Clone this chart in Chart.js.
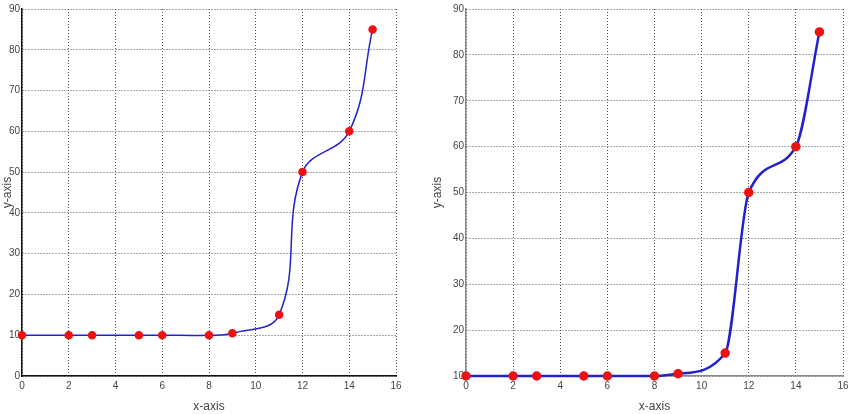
<!DOCTYPE html>
<html>
<head>
<meta charset="utf-8">
<script src="https://cdn.jsdelivr.net/npm/chart.js@4.4.0/dist/chart.umd.min.js"></script>
<style>
  body { margin: 0; background: #fff; }
  canvas { position: absolute; top: 0; }
  #leftChart { left: 0; }
  #rightChart { left: 430px; }
</style>
</head>
<body>
<canvas id="leftChart" width="420" height="414"></canvas>
<canvas id="rightChart" width="424" height="414"></canvas>
<script>
// Data
const xValues = [0, 2, 3, 5, 6, 8, 9, 11, 12, 14, 15];
const yValues = [10, 10, 10, 10, 10, 10, 10.5, 15, 50, 60, 85];
const xTicks = [0, 2, 4, 6, 8, 10, 12, 14, 16];
const leftYTicks = [0, 10, 20, 30, 40, 50, 60, 70, 80, 90];
const rightYTicks = [10, 20, 30, 40, 50, 60, 70, 80, 90];

const points = xValues.map((x, i) => ({ x: x, y: yValues[i] }));

Chart.defaults.font.family = "'Liberation Sans', Arial, sans-serif";
Chart.defaults.font.size = 10;
Chart.defaults.color = '#444';

function makeChart(ctx, yTicks, opts) {
    return new Chart(ctx, {
        type: 'line',
        data: {
            datasets: [{
                data: points,
                borderColor: '#2222cc',
                borderWidth: opts.lineWidth,
                pointBackgroundColor: '#ee1111',
                pointBorderColor: '#ee1111',
                pointRadius: 3.5,
                tension: opts.tension,
                cubicInterpolationMode: opts.mode,
                clip: false,
                fill: false
            }]
        },
        options: {
            responsive: false,
            animation: false,
            layout: { padding: { top: 9, right: opts.rightPad, bottom: 0, left: 0 } },
            plugins: { legend: { display: false }, tooltip: { enabled: false } },
            scales: {
                x: {
                    type: 'linear',
                    min: 0, max: 16,
                    afterBuildTicks: s => { s.ticks = xTicks.map(v => ({ value: v })); },
                    afterFit: s => { s.height = 38; },
                    grid: { color: '#555', tickLength: 0, lineWidth: 1 },
                    border: { display: true, color: opts.axisColor, width: 1.5, dash: [1, 2] },
                    ticks: { padding: 4, maxRotation: 0 },
                    title: { display: true, text: 'x-axis', font: { size: 12 }, padding: { top: 0, bottom: 0 } }
                },
                y: {
                    type: 'linear',
                    min: yTicks[0], max: 90,
                    afterBuildTicks: s => { s.ticks = yTicks.map(v => ({ value: v })); },
                    afterFit: s => { s.width = opts.yWidth; },
                    grid: { color: '#555', tickLength: 0, lineWidth: 1 },
                    border: { display: true, color: opts.axisColor, width: 1.5, dash: [1, 2] },
                    ticks: { padding: 2 },
                    title: { display: true, text: 'y-axis', font: { size: 12 }, padding: 0 }
                }
            }
        }
    });
}

makeChart(document.getElementById('leftChart'), leftYTicks, {
    tension: 0.4, mode: 'default', lineWidth: 1.5, rightPad: 24, yWidth: 22, axisColor: '#111'
});
makeChart(document.getElementById('rightChart'), rightYTicks, {
    tension: 0.4, mode: 'monotone', lineWidth: 2.5, rightPad: 11, yWidth: 36, axisColor: '#888'
});
</script>
</body>
</html>
